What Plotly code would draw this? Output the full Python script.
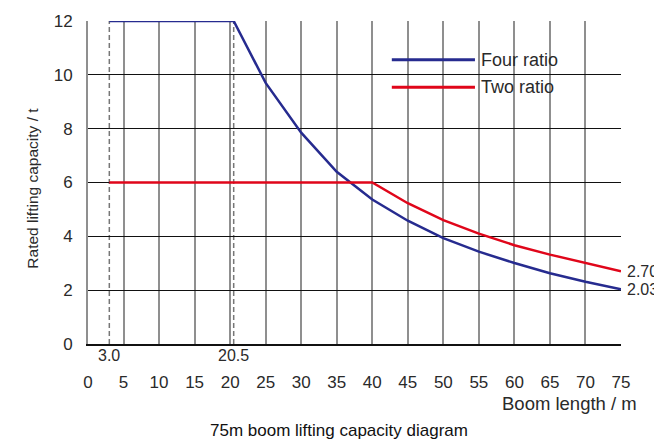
import plotly.graph_objects as go

# Data
four_x = [3, 20.5, 25, 30, 35, 40, 45, 50, 55, 60, 65, 70, 75]
four_y = [12, 12, 9.7, 7.85, 6.4, 5.37, 4.58, 3.93, 3.43, 3.01, 2.63, 2.31, 2.03]
two_x = [3, 40, 45, 50, 55, 60, 65, 70, 75]
two_y = [6, 6, 5.23, 4.6, 4.1, 3.67, 3.32, 3.01, 2.70]
x_ticks = list(range(0, 80, 5))
y_ticks = [0, 2, 4, 6, 8, 10, 12]
marks = [3.0, 20.5]
end_labels = ["2.70", "2.03"]

BLUE = "#262b8f"
RED = "#e0061a"
TXT = "#2a2a2a"
FONT = "Liberation Sans, Arial, sans-serif"

fig = go.Figure()
fig.add_trace(go.Scatter(x=four_x, y=four_y, mode="lines", name="Four ratio",
                         line=dict(color=BLUE, width=2.5), showlegend=False))
fig.add_trace(go.Scatter(x=two_x, y=two_y, mode="lines", name="Two ratio",
                         line=dict(color=RED, width=2.5), showlegend=False))

# dashed reference lines
for m in marks:
    fig.add_shape(type="line", x0=m, x1=m, y0=0, y1=12, xref="x", yref="y",
                  line=dict(color="#777777", width=1.5, dash="5px,3px"), layer="below")
    fig.add_annotation(x=m, y=0, xref="x", yref="y", text=f"{m:.1f}", showarrow=False,
                       yshift=-11, yanchor="middle", xanchor="center",
                       font=dict(size=16, color=TXT, family=FONT))

# end labels
fig.add_annotation(x=two_x[-1], y=two_y[-1], text=end_labels[0], showarrow=False,
                   xanchor="left", yanchor="middle", xshift=4, font=dict(size=16, color=TXT, family=FONT))
fig.add_annotation(x=four_x[-1], y=four_y[-1], text=end_labels[1], showarrow=False,
                   xanchor="left", yanchor="middle", xshift=4, font=dict(size=16, color=TXT, family=FONT))

# manual legend
for yy, col, name in [(0.880, BLUE, "Four ratio"), (0.795, RED, "Two ratio")]:
    fig.add_shape(type="line", x0=0.570, x1=0.726, y0=yy, y1=yy, xref="paper", yref="paper",
                  line=dict(color=col, width=3))
    fig.add_annotation(x=0.733, y=yy, xref="paper", yref="paper", text=name, showarrow=False,
                       xanchor="left", yanchor="middle", font=dict(size=18, color=TXT, family=FONT))

# axis titles / caption
fig.add_annotation(x=-0.104, y=0.56, xref="paper", yref="paper", text="Rated lifting capacity / t",
                   textangle=-90, showarrow=False, xanchor="center", yanchor="middle", yshift=-25,
                   font=dict(size=15.5, color=TXT, family=FONT))
fig.add_annotation(x=1.0, y=-0.18, xref="paper", yref="paper", text="Boom length / m",
                   showarrow=False, xanchor="right", yanchor="middle", xshift=18, yshift=-1,
                   font=dict(size=18.5, color=TXT, family=FONT))
fig.add_annotation(x=0.5, y=-0.26, xref="paper", yref="paper", text="75m boom lifting capacity diagram",
                   showarrow=False, xanchor="center", yanchor="middle", xshift=-16, yshift=-3,
                   font=dict(size=17, color="#111111", family=FONT))

fig.update_layout(
    width=654, height=440,
    margin=dict(l=88, r=33, t=16, b=96),
    paper_bgcolor="white", plot_bgcolor="white",
    font=dict(family=FONT, size=17, color=TXT),
    xaxis=dict(range=[0, 75], tickvals=x_ticks, ticktext=[str(v) for v in x_ticks],
               showgrid=True, gridcolor="#8f8f8f", gridwidth=2, zeroline=False,
               showline=True, linecolor="#111111", linewidth=1.5,
               ticks="", ticklabelstandoff=22, tickfont=dict(size=17, color=TXT)),
    yaxis=dict(range=[0, 12], tickvals=y_ticks, showgrid=True, gridcolor="#111111", gridwidth=1,
               zeroline=False, showline=True, linecolor="#8f8f8f", linewidth=2,
               ticks="", ticklabelstandoff=10, tickfont=dict(size=17, color=TXT)),
)

fig.write_html("out.html", config={"displayModeBar": False})
with open("out.html", "r", encoding="utf-8") as f:
    html = f.read()
html = html.replace("<head>", "<head><style>html,body{margin:0;padding:0;overflow:hidden;}</style>", 1)
with open("out.html", "w", encoding="utf-8") as f:
    f.write(html)
